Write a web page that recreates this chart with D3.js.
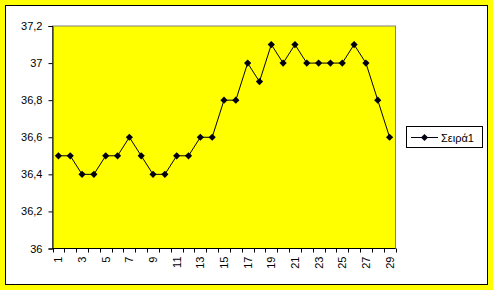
<!DOCTYPE html>
<html><head><meta charset="utf-8">
<script src="https://cdn.jsdelivr.net/npm/d3@7"></script>
<style>body{margin:0;background:#ffff00;}svg{display:block;}</style>
</head><body>
<script>
const categories = d3.range(1, 30);
const seriesName = "Σειρά1";
const values = [36.5,36.5,36.4,36.4,36.5,36.5,36.6,36.5,36.4,36.4,36.5,36.5,36.6,36.6,36.8,36.8,37.0,36.9,37.1,37.0,37.1,37.0,37.0,37.0,37.0,37.1,37.0,36.8,36.6];
const yTicks = [36,36.2,36.4,36.6,36.8,37,37.2];

const W = 493, H = 290;
const svg = d3.select("body").append("svg").attr("width", W).attr("height", H);
const font = "Arial, 'Liberation Sans', sans-serif";

svg.append("rect").attr("width", W).attr("height", H).attr("fill", "#ffff00");
svg.append("rect").attr("x", 5.5).attr("y", 5.5).attr("width", 482).attr("height", 279)
  .attr("fill", "#fff").attr("stroke", "#000").attr("stroke-width", 1);

const L = 52.5, R = 395.5, T = 26, B = 248.5;
const x = d3.scaleBand().domain(categories).range([L, R]).padding(0);
const y = d3.scaleLinear().domain([36, 37.2]).range([B, T]);

svg.append("rect").attr("x", L).attr("y", T).attr("width", R - L).attr("height", B - T)
  .attr("fill", "#ffff00").attr("stroke", "#808080").attr("stroke-width", 1);

const fmt = d => String(+d.toFixed(1)).replace(".", ",");
const ya = svg.append("g").attr("transform", `translate(${L},0)`)
  .call(d3.axisLeft(y).tickValues(yTicks).tickFormat(fmt).tickSize(4).tickPadding(6));
ya.select(".domain").attr("stroke", "#000");
ya.selectAll("text").attr("font-family", font).attr("font-size", 11).attr("fill", "#000");

// x axis: ticks at category boundaries
const xa = svg.append("g").attr("transform", `translate(0,${B})`);
xa.append("line").attr("x1", L).attr("x2", R).attr("stroke", "#000");
const bounds = categories.map(c => x(c)).concat([R]);
xa.selectAll("line.t").data(bounds).join("line").attr("class", "t")
  .attr("x1", d => Math.round(d) + 0.5).attr("x2", d => Math.round(d) + 0.5).attr("y1", 0).attr("y2", 4).attr("stroke", "#000");
xa.selectAll("text").data(categories.filter(c => c % 2 === 1)).join("text")
  .attr("transform", d => `translate(${x(d) + x.bandwidth() / 2 + 4},${8}) rotate(-90)`)
  .attr("text-anchor", "end").attr("font-family", font).attr("font-size", 11).attr("fill", "#000")
  .text(d => d);

const pts = categories.map((c, i) => [x(c) + x.bandwidth() / 2, y(values[i])]);
svg.append("path").attr("d", d3.line()(pts)).attr("fill", "none").attr("stroke", "#000010").attr("stroke-width", 1);
const marker = d3.symbol().type(d3.symbolSquare).size(26);
svg.selectAll("path.m").data(pts).join("path").attr("class", "m")
  .attr("transform", d => `translate(${d[0]},${d[1]}) rotate(45)`)
  .attr("d", marker).attr("fill", "#000010");

// legend
const lg = svg.append("g");
lg.append("rect").attr("x", 406.5).attr("y", 126.5).attr("width", 76).attr("height", 21)
  .attr("fill", "#fff").attr("stroke", "#000");
lg.append("line").attr("x1", 411).attr("x2", 438).attr("y1", 137.5).attr("y2", 137.5).attr("stroke", "#000010");
lg.append("path").attr("transform", "translate(424.5,137.5) rotate(45)")
  .attr("d", marker).attr("fill", "#000010");
lg.append("text").attr("x", 441).attr("y", 141.5).attr("font-family", font).attr("font-size", 11)
  .attr("fill", "#000").text(seriesName);
</script>
</body></html>
